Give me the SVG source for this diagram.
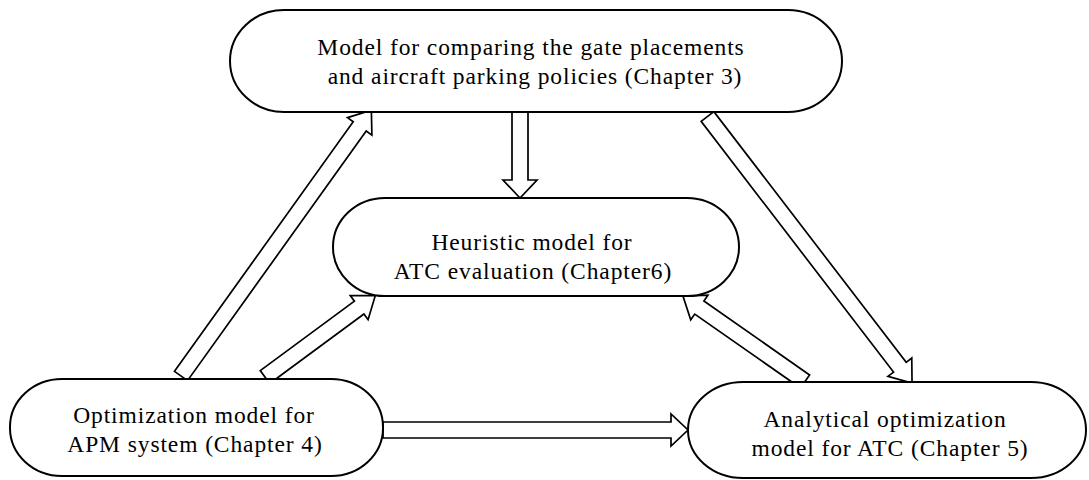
<svg xmlns="http://www.w3.org/2000/svg" width="1089" height="480" viewBox="0 0 1089 480">
<style>
.node{fill:#fff;stroke:#000;stroke-width:2}
.t{font-family:"Liberation Serif","Times New Roman",serif;font-size:23.5px;letter-spacing:0.9px;fill:#000;text-anchor:middle}
.arr{fill:#fff;stroke:#000;stroke-width:1.7;stroke-linejoin:miter}
</style>
<rect width="1089" height="480" fill="#fff"/>
<g id="connectors">
  <!-- left -> top -->
  <g transform="translate(181,376) rotate(-54.4)"><path class="arr" d="M0,-8 H307 V-15 L327,0 L307,15 V8 H0 Z"/></g>
  <!-- top -> middle -->
  <g transform="translate(520,112) rotate(90)"><path class="arr" d="M0,-8 H68 V-17 L86,0 L68,17 V8 H0 Z"/></g>
  <!-- top -> right -->
  <g transform="translate(707.5,116.5) rotate(52.5)"><path class="arr" d="M0,-8 H316 V-15 L336,0 L316,15 V8 H0 Z"/></g>
  <!-- left -> middle -->
  <g transform="translate(265,377) rotate(-36.4)"><path class="arr" d="M0,-8 H117 V-15 L137,0 L117,15 V8 H0 Z"/></g>
  <!-- right -> middle -->
  <g transform="translate(805,381.5) rotate(-145)"><path class="arr" d="M0,-8 H129 V-15 L149,0 L129,15 V8 H0 Z"/></g>
  <!-- left -> right -->
  <g transform="translate(383,430)"><path class="arr" d="M0,-8 H288 V-16 L305,0 L288,16 V8 H0 Z"/></g>
</g>
<g id="node-top">
  <rect class="node" x="230" y="10" width="612" height="102" rx="54" ry="51"/>
  <text class="t" x="531" y="55">Model for comparing the gate placements</text>
  <text class="t" x="535" y="84">and aircraft parking policies (Chapter 3)</text>
</g>
<g id="node-middle">
  <rect class="node" x="333" y="198" width="406" height="98" rx="52" ry="49"/>
  <text class="t" x="532" y="250">Heuristic model for</text>
  <text class="t" x="533" y="279">ATC evaluation (Chapter6)</text>
</g>
<g id="node-left">
  <rect class="node" x="10" y="379" width="373" height="97" rx="52" ry="48"/>
  <text class="t" x="194" y="423">Optimization model for</text>
  <text class="t" x="195" y="452">APM system (Chapter 4)</text>
</g>
<g id="node-right">
  <rect class="node" x="688" y="382" width="398" height="96" rx="55" ry="48"/>
  <text class="t" x="885" y="427">Analytical optimization</text>
  <text class="t" x="890" y="456">model for ATC (Chapter 5)</text>
</g>
</svg>
